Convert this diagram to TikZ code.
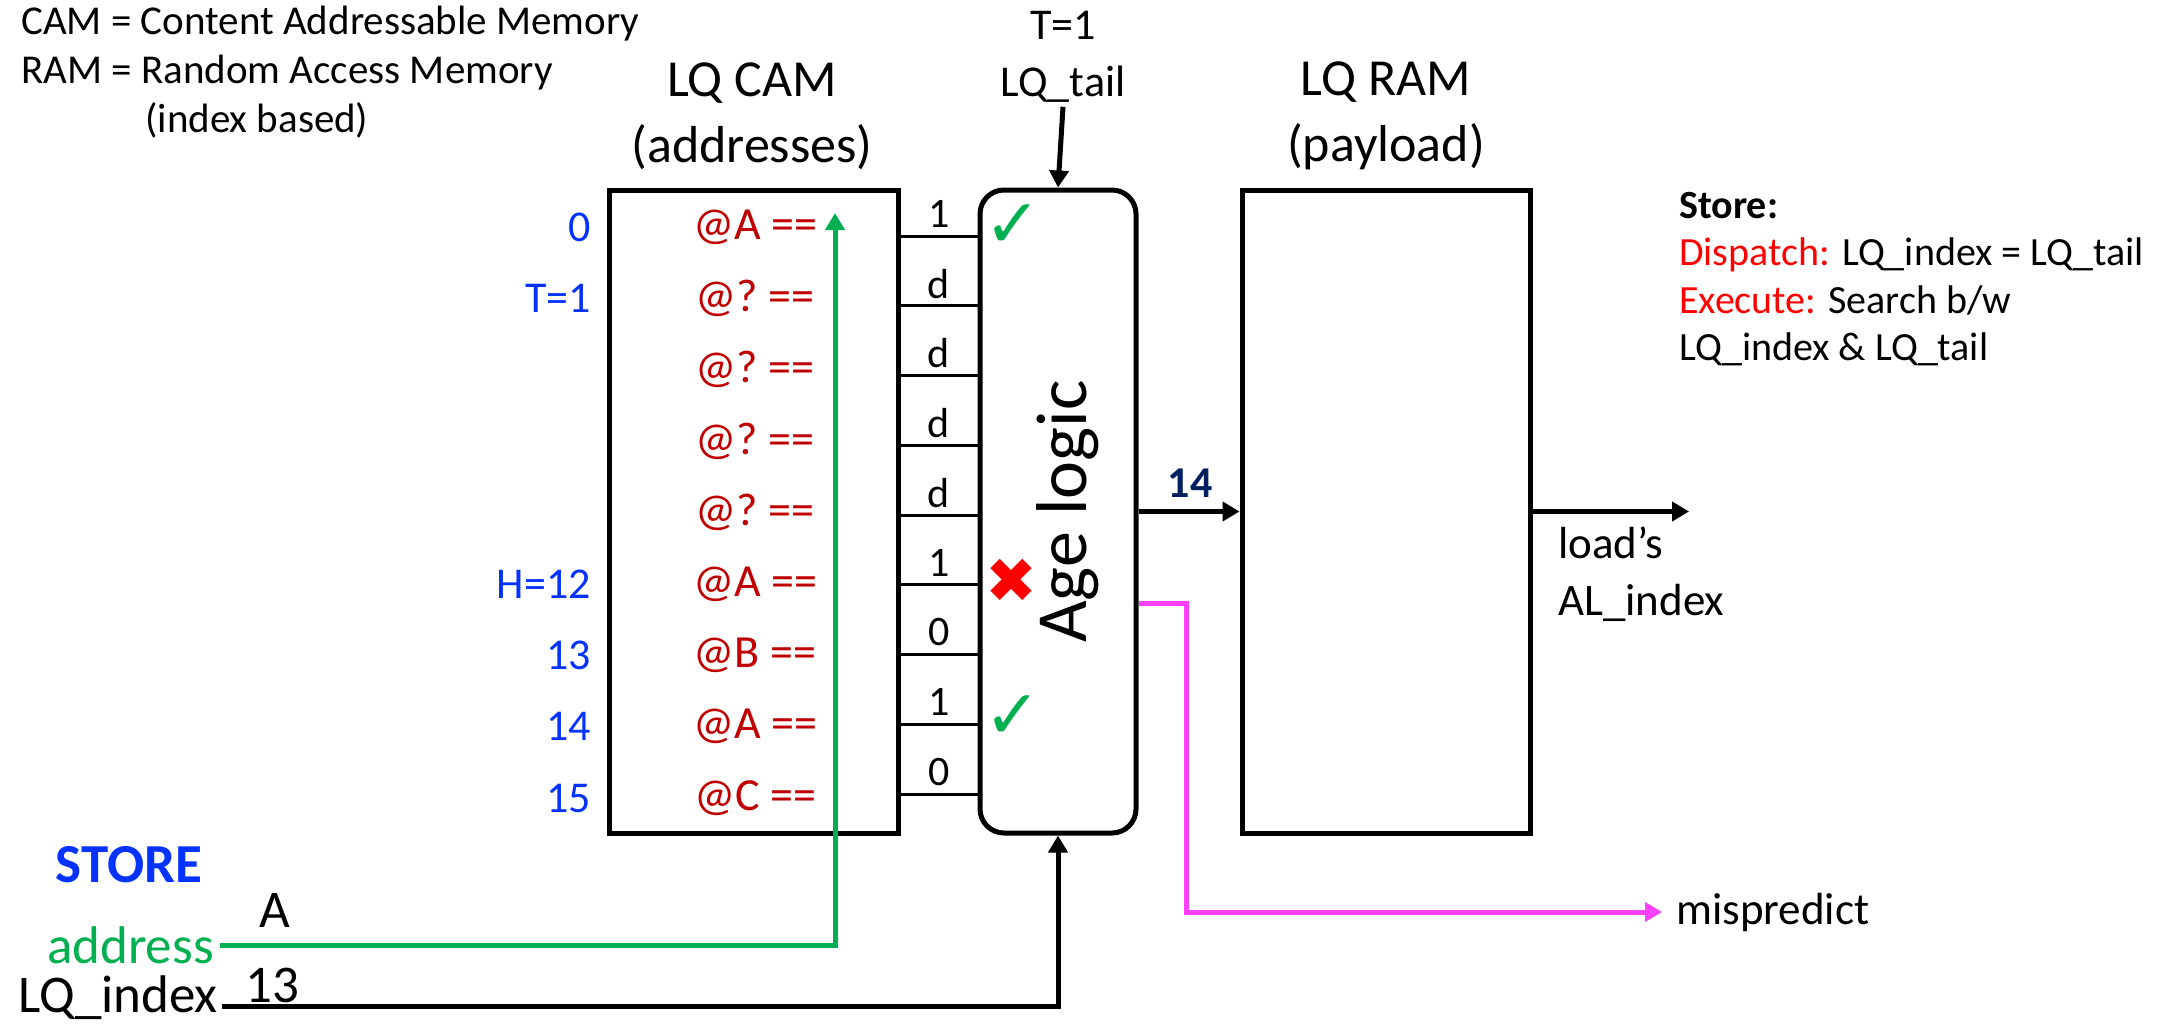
\documentclass[tikz,border=0pt]{standalone}
\usepackage{fontspec}
\setmainfont{Carlito}
\newfontfamily\symbolfont{DejaVu Sans}
\usepackage{tikz}
\usetikzlibrary{
  arrows.meta,
  positioning
}
\definecolor{indexBlue}{RGB}{4,51,255}
\definecolor{entryRed}{RGB}{192,0,0}
\definecolor{hotRed}{RGB}{255,0,0}
\definecolor{wireGreen}{RGB}{0,176,80}
\definecolor{missMagenta}{RGB}{255,64,255}
\definecolor{navy}{RGB}{0,32,96}
\newcommand{\pxfont}[2]{\fontsize{#1bp}{#2bp}\selectfont}
\tikzset{
  >={Triangle[length=17bp,width=19bp]},
  wire/.style={draw=black, line width=5bp},
  arrow/.style={wire, -{Triangle[length=17bp,width=19bp]}},
  greenwire/.style={arrow, draw=wireGreen},
  misswire/.style={arrow, draw=missMagenta},
  bitwire/.style={draw=black, line width=3bp},
  memory/.style={draw=black, line width=5bp, minimum height=643bp, inner sep=0pt},
  agebox/.style={memory, rounded corners=24bp, minimum width=156bp},
  title/.style={align=center, font=\pxfont{52}{66}},
  note/.style={anchor=west, inner sep=0pt, font=\pxfont{41}{48}},
  idx/.style={anchor=east, inner sep=0pt, text=indexBlue, font=\pxfont{44}{53}},
  entry/.style={inner sep=0pt, text=entryRed, font=\pxfont{46}{55}},
  bitlabel/.style={inner sep=0pt, font=\pxfont{42}{49}},
  okmark/.style={inner sep=0pt, text=wireGreen, font=\symbolfont\pxfont{68}{68}},
  badmark/.style={inner sep=0pt, text=hotRed, font=\symbolfont\pxfont{62}{62}},
  signal/.style={inner sep=0pt, font=\pxfont{53}{64}},
  small/.style={inner sep=0pt, font=\pxfont{45}{57}}
}

\begin{document}
\begin{tikzpicture}[x=1bp,y=-1bp]
  \useasboundingbox (0,0) rectangle (2176,1026);

  \node[note] (legendcam) at (21,24) {CAM = Content Addressable Memory};
  \node[note] (legendram) at (21,73) {RAM = Random Access Memory};
  \node[note] (legendidx) at (145,120) {(index based)};

  \node[memory, minimum width=289bp] (cam) at (753.5,511.5) {};
  \node[agebox] (age) at (1058,511.5) {};
  \node[memory, minimum width=288bp] (ram) at (1386,511.5) {};

  \node[title] (camtitle) at (752,116) {LQ CAM\\(addresses)};
  \node[title] (ramtitle) at (1386,116) {LQ RAM\\(payload)};
  \node[align=center, inner sep=0pt, font=\pxfont{44}{57}] (tail) at (1063,57) {T=1\\LQ\_tail};
  \draw[arrow] (tail.south) ++(0,4) -- (age.north);

  \foreach \r/\lab in {0/0,1/T=1,5/H=12,6/13,7/14,8/15}{
    \node[idx] (n\r) at (591,{227+71.4*\r}) {\lab};
  }
  \foreach \r/\addr/\bit in {0/A/1,1/?/d,2/?/d,3/?/d,4/?/d,5/A/1,6/B/0,7/A/1,8/C/0}{
    \pgfmathsetmacro{\ly}{236+69.75*\r}
    \node[entry] (e\r) at (755,{227+71.4*\r}) {@\addr\ ==};
    \draw[bitwire] (cam.east |- 0,\ly) -- (age.west |- 0,\ly);
    \node[bitlabel] (b\r) at (939,\ly-22) {\bit};
  }

  \node[okmark] (ok0) at (1013,226) {✓};
  \node[badmark] (bad5) at (1011,581) {✖};
  \node[okmark] (ok7) at (1013,717) {✓};
  \node[rotate=90, inner sep=0pt, font=\pxfont{72}{72}] (agetext) at (1068,511.5) {Age logic};

  \draw[arrow] (age.east) -- (ram.west);
  \node[inner sep=0pt, text=navy, font=\bfseries\pxfont{44}{44}] (moved) at (1190,483) {14};

  \coordinate (loadout) at (1689,511.5);
  \draw[arrow] (ram.east) -- (loadout);
  \node[small, anchor=north west, align=left] (loadidx) at (1558,527) {load’s\\AL\_index};

  \node[small, anchor=west] (mispredict) at (1676,912) {mispredict};
  \draw[misswire] ([yshift=-91.5bp]age.east) -- ++(48,0) |- ([xshift=-14bp]mispredict.west);

  \node[anchor=west, align=left, inner sep=0pt, font=\pxfont{40}{47.5}] (storenote) at (1679,279)
    {\textbf{Store:}\\\textcolor{hotRed}{Dispatch:} LQ\_index = LQ\_tail\\\textcolor{hotRed}{Execute:} Search b/w\\LQ\_index \& LQ\_tail};

  \node[signal, text=indexBlue, font=\bfseries\pxfont{55}{64}] (store) at (129,865) {STORE};
  \node[signal, anchor=east, text=wireGreen] (addr) at (214,945) {address};
  \node[signal, anchor=east] (lqidx) at (218,998) {LQ\_index};
  \node[signal] (aval) at (275,910) {A};
  \node[signal] (ival) at (272,985) {13};

  \coordinate (tap) at (835,213);
  \draw[greenwire] ([xshift=6bp]addr.east) -| (tap);
  \draw[arrow] ([xshift=4bp,yshift=-8bp]lqidx.east) -| (age.south);
\end{tikzpicture}
\end{document}
